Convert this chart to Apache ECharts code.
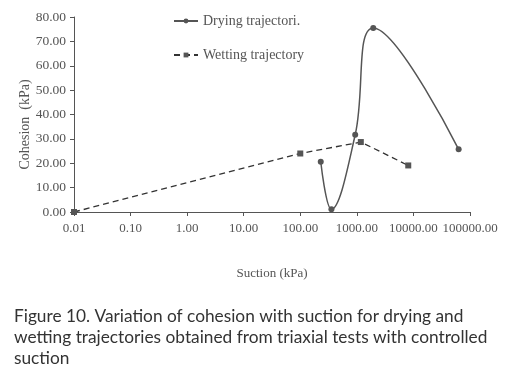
<!DOCTYPE html>
<html lang="en">
<head>
    <meta charset="UTF-8">
    <title>Cohesion vs suction</title>
    <script src="https://cdn.jsdelivr.net/npm/echarts@6/dist/echarts.min.js"></script>
    <style>
        html, body { margin: 0; padding: 0; background: #fff; }
        #chart { width: 505px; height: 373px; }
    </style>
</head>
<body>
    <div id="chart"></div>
    <script>
        // 干燥路径 (吸力 kPa, 粘聚力 kPa)
        let dryingSuction = [230, 355, 935, 1950, 63000];
        let dryingCohesion = [20.6, 1.1, 31.7, 75.5, 25.7];
        // 湿润路径
        let wettingSuction = [0.01, 100, 1175, 8100];
        let wettingCohesion = [0, 24, 28.7, 19.1];

        let seriesNames = ['Drying trajectori.', 'Wetting trajectory'];
        let caption = 'Figure 10. Variation of cohesion with suction for drying and\nwetting trajectories obtained from triaxial tests with controlled\nsuction';

        let gray = '#555';
        let serif = '"Liberation Serif", "DejaVu Serif", serif';

        let chart = echarts.init(document.getElementById('chart'));
        chart.setOption({
            animation: false,
            title: {
                text: caption,
                left: 9,
                top: 301,
                textStyle: {
                    fontFamily: 'Lato, "Open Sans", sans-serif',
                    fontSize: 17.3,
                    fontWeight: 'normal',
                    color: '#333',
                    lineHeight: 21
                }
            },
            legend: {
                data: seriesNames,
                orient: 'vertical',
                left: 168,
                top: 9,
                itemGap: 20,
                itemWidth: 24,
                itemHeight: 6,
                textStyle: { fontFamily: serif, fontSize: 14, color: gray }
            },
            grid: { left: 74, right: 35, top: 17, bottom: 161 },
            xAxis: {
                type: 'log',
                logBase: 10,
                min: 0.01,
                max: 100000,
                splitNumber: 7,
                name: 'Suction (kPa)',
                nameLocation: 'middle',
                nameGap: 55,
                nameMoveOverlap: false,
                nameTextStyle: { fontFamily: serif, fontSize: 13, color: gray },
                axisLine: { lineStyle: { color: gray } },
                axisTick: { length: 4, lineStyle: { color: gray } },
                splitLine: { show: false },
                minorTick: { show: false },
                axisLabel: {
                    fontFamily: serif, fontSize: 13, color: gray, margin: 10,
                    formatter: v => Number(v).toFixed(2)
                }
            },
            yAxis: {
                type: 'value',
                min: 0,
                max: 80,
                interval: 10,
                name: 'Cohesion  (kPa)',
                nameLocation: 'middle',
                nameGap: 42,
                nameMoveOverlap: false,
                nameTextStyle: { fontFamily: serif, fontSize: 14, color: gray, padding: [0, 0, 0, -20] },
                axisLine: { show: true, lineStyle: { color: gray } },
                axisTick: { show: true, length: 4, lineStyle: { color: gray } },
                splitLine: { show: false },
                axisLabel: {
                    fontFamily: serif, fontSize: 13.5, color: gray, margin: 8,
                    formatter: v => v.toFixed(2)
                }
            },
            series: [
                {
                    name: seriesNames[0],
                    type: 'line',
                    smooth: 0.4,
                    data: dryingSuction.map((s, i) => [s, dryingCohesion[i]]),
                    symbol: 'circle',
                    symbolSize: 6,
                    itemStyle: { color: gray },
                    lineStyle: { color: gray, width: 1.5 }
                },
                {
                    name: seriesNames[1],
                    type: 'line',
                    data: wettingSuction.map((s, i) => [s, wettingCohesion[i]]),
                    symbol: 'rect',
                    symbolSize: 6,
                    itemStyle: { color: gray },
                    lineStyle: { color: '#333', width: 1.3, type: [6, 4] }
                }
            ]
        });
    </script>
</body>
</html>
